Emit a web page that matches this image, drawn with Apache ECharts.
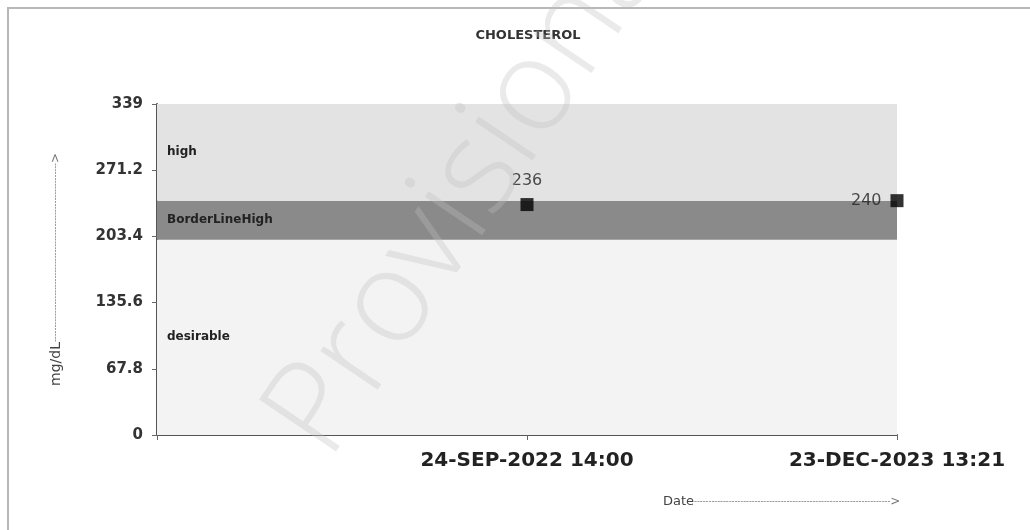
<!DOCTYPE html>
<html><head><meta charset="utf-8">
<script src="https://cdn.jsdelivr.net/npm/echarts@6/dist/echarts.min.js"></script>
<style>html,body{margin:0;padding:0;background:#fff}#c{width:1030px;height:530px}</style>
</head><body><div id="c"></div>
<script>
const categories = ['', '24-SEP-2022 14:00', '23-DEC-2023 13:21'];
const values = ['-', 236, 240];
const labelSides = [null, 'top', 'left'];
const bandNames = ['desirable', 'BorderLineHigh', 'high'];
const bandFrom = [0, 200, 240];
const bandTo = [200, 240, 339];
const bandColors = ['#f3f3f3', '#8a8a8a', '#e3e3e3'];
const yMin = 0, yMax = 339, yStep = 67.8;

const chart = echarts.init(document.getElementById('c'), null, {renderer: 'canvas'});
const dashes = n => '-'.repeat(n);
chart.setOption({
  animation: false,
  backgroundColor: '#fff',
  title: [
    {text: 'CHOLESTEROL', left: 523, top: 24, textAlign: 'center',
     textStyle: {fontFamily: 'DejaVu Sans', fontSize: 13, fontWeight: 'bold', color: '#333'}},
    {text: '{a|Date}{b|' + dashes(68) + '}{c|>}', left: 658, top: 490,
     textStyle: {fontWeight: 'normal', rich: {
       a: {fontFamily: 'DejaVu Sans', fontSize: 13, fontWeight: 'normal', color: '#444'},
       b: {fontFamily: 'DejaVu Sans', fontSize: 8, fontWeight: 'normal', color: '#777'},
       c: {fontFamily: 'DejaVu Sans', fontSize: 12, fontWeight: 'normal', color: '#777'}
     }}}
  ],
  graphic: [
    {type: 'rect', shape: {x: 8, y: 8, width: 1200, height: 700}, silent: true,
     style: {fill: 'none', stroke: '#b8b8b8', lineWidth: 2}, z: 0},
    {type: 'text', x: 352, y: 478, rotation: 56 * Math.PI / 180, silent: true, z: 100,
     style: {text: 'Provisional', fontFamily: 'Open Sans', fontSize: 130, fontWeight: 300,
             fill: 'rgba(190,190,190,0.33)', verticalAlign: 'bottom', align: 'left'}}
  ],
  grid: {left: 157, right: 133, top: 104, bottom: 95, containLabel: false},
  xAxis: {
    type: 'category', data: categories, boundaryGap: false,
    axisLine: {lineStyle: {color: '#555', width: 2}},
    axisTick: {show: true, length: 5, lineStyle: {color: '#666'}},
    axisLabel: {margin: 16, fontFamily: 'DejaVu Sans', fontSize: 20, fontWeight: 'bold', color: '#222'},
    splitLine: {show: false}
  },
  yAxis: {
    type: 'value', min: yMin, max: yMax, interval: yStep,
    name: '{a|mg/dL}{b|' + dashes(62) + '}{c|>}',
    nameLocation: 'middle', nameGap: 94, nameRotate: 90,
    nameTextStyle: {rich: {
      a: {fontFamily: 'DejaVu Sans', fontSize: 14, color: '#444'},
      b: {fontFamily: 'DejaVu Sans', fontSize: 8, color: '#777'},
      c: {fontFamily: 'DejaVu Sans', fontSize: 12, color: '#777'}
    }},
    axisLine: {show: true, lineStyle: {color: '#555', width: 2}},
    axisTick: {show: true, length: 5, lineStyle: {color: '#666'}},
    axisLabel: {margin: 14, fontFamily: 'DejaVu Sans', fontSize: 15, fontWeight: 'bold', color: '#333',
      formatter: v => String(Math.round(v * 10) / 10)},
    splitLine: {show: false}
  },
  series: [{
    type: 'scatter',
    symbol: 'rect', symbolSize: 13,
    itemStyle: {color: '#000'},
    data: values.map((v, i) => (v === '-' ? '-' : {value: v, label: {position: labelSides[i]}})),
    label: {show: true, distance: 9, fontFamily: 'DejaVu Sans', fontSize: 16, color: '#222'},
    markArea: {
      silent: true,
      label: {position: 'insideLeft', distance: 10, fontFamily: 'DejaVu Sans', fontSize: 12,
              fontWeight: 'bold', color: '#222'},
      data: bandNames.map((n, i) => [
        {name: n, yAxis: bandFrom[i], itemStyle: {color: bandColors[i]}},
        {yAxis: bandTo[i]}
      ])
    }
  }]
});
</script></body></html>
